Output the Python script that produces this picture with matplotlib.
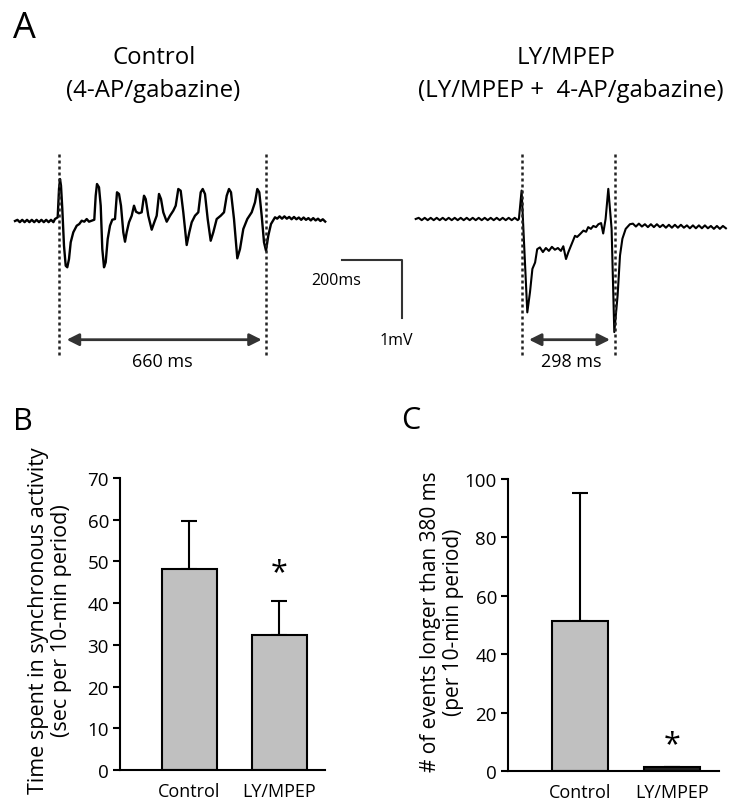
import matplotlib
matplotlib.use('Agg')
import matplotlib.pyplot as plt

plt.rcParams['font.family'] = ['Open Sans', 'DejaVu Sans']

W, H = 750, 812

# panel A traces: time (ms) from trace start, voltage (mV) from baseline
ctrl_t = [0, 8, 16, 24, 32, 40, 48, 56, 64, 72, 80, 88, 96, 104, 112, 120, 128,
          133.3, 142.3, 146.7, 150, 153.3, 157.7, 163.3, 169, 174.3, 180, 185.7, 194.3,
          205.7, 214.3, 222.3, 231, 239, 246.7, 255.7, 264.3, 269, 273.3, 280, 285.7, 291,
          296.7, 302.3, 309, 316.7, 324.3, 333.3, 340, 346.7, 353.3, 361, 366.7, 372.3, 380,
          389, 396.7, 403.3, 413.3, 422.3, 430, 435.7, 444.3, 455.7, 464.3, 472.3, 480,
          486.7, 494.3, 505.7, 516.7, 527.7, 535.7, 544.3, 552.3, 561, 572.3, 581, 589, 600,
          611, 619, 625.7, 633.3, 642.3, 652.3, 661, 672.3, 685.7, 696.7, 705.7, 713.3, 720,
          730, 741, 750, 761, 774.3, 789, 800, 807.7, 814.3, 822.3, 830, 836.7, 844.3, 853.3,
          866.7,
          874, 882, 890, 898, 906, 914, 922, 930, 938, 946, 954, 962, 970, 978, 986, 994,
          1002, 1010, 1018, 1026, 1034]
ctrl_v = [0.0, 0.02, -0.02, 0.02, -0.02, 0.02, -0.02, 0.02, -0.02, 0.02, -0.02, 0.02, -0.02,
          0.02, -0.02, 0.02, -0.02,
          0.034, 0.064, 0.552, 0.724, 0.609, 0.207, -0.426, -0.771, -0.798, -0.655, -0.367,
          -0.195, -0.081, -0.052, 0.005, -0.012, 0.034, -0.012, 0.005, 0.022, 0.436, 0.638,
          0.581, 0.264, -0.483, -0.798, -0.712, -0.310, -0.081, 0.022, 0.034, 0.495, 0.466,
          0.264, -0.195, -0.357, -0.195, -0.022, 0.091, 0.264, 0.160, 0.133, 0.150, 0.436,
          0.379, 0.091, -0.150, -0.022, 0.091, 0.466, 0.379, 0.150, -0.012, 0.091, 0.178,
          0.264, 0.552, 0.522, 0.150, -0.414, -0.195, -0.022, 0.091, 0.150, 0.495, 0.552,
          0.466, 0.034, -0.340, -0.195, 0.034, 0.091, 0.150, 0.436, 0.552, 0.495, 0.034,
          -0.643, -0.483, -0.138, 0.034, 0.150, 0.322, 0.552, 0.495, 0.091, -0.367, -0.512,
          -0.253, -0.052, 0.064,
          0.04, 0.08, 0.04, 0.08, 0.04, 0.07, 0.03, 0.07, 0.03, 0.06, 0.02, 0.06, 0.02, 0.05,
          0.01, 0.05, 0.01, 0.04, 0.0, 0.03, -0.01]

ly_t = [0, 10, 20, 30, 40, 50, 60, 70, 80, 90, 100, 110, 120, 130, 140, 150, 160, 170, 180,
        190, 200, 210, 220, 230, 240, 250, 260, 270, 280, 290, 300, 310, 320, 330, 340, 344,
        353, 372, 381, 389, 398, 405, 414, 424, 434, 444, 454, 464, 474, 484, 492, 501, 509,
        520, 531, 538, 548, 559, 568, 575, 584, 592, 601, 609, 618, 625, 633, 642, 653, 662,
        673, 681, 689, 700, 714,
        724, 734, 744, 754, 764, 774, 784, 794, 804, 814, 824, 834, 844, 854, 864, 874, 884,
        894, 904, 914, 924, 934, 944, 954, 964, 974, 984, 994, 1004, 1014, 1024, 1034]
ly_v = [0.0, 0.02, -0.02, 0.02, -0.02, 0.02, -0.02, 0.02, -0.02, 0.02, -0.02, 0.02, -0.02,
        0.02, -0.02, 0.02, -0.02, 0.02, -0.02, 0.02, -0.02, 0.02, -0.02, 0.02, -0.02, 0.02,
        -0.02, 0.02, -0.02, 0.02, -0.02, 0.02, -0.02, 0.02, -0.02, 0.0,
        0.49, -1.61, -1.26, -0.86, -0.75, -0.52, -0.49, -0.57, -0.50, -0.55, -0.48, -0.53,
        -0.50, -0.55, -0.47, -0.69, -0.57, -0.43, -0.29, -0.31, -0.26, -0.20, -0.22, -0.14,
        -0.17, -0.12, -0.14, -0.09, -0.07, -0.25, 0.0, 0.52, -0.17, -1.95, -1.32, -0.63,
        -0.34, -0.17, -0.09,
        -0.08, -0.13, -0.08, -0.13, -0.09, -0.14, -0.09, -0.14, -0.09, -0.14, -0.10, -0.15,
        -0.10, -0.15, -0.10, -0.15, -0.10, -0.15, -0.11, -0.16, -0.11, -0.16, -0.11, -0.16,
        -0.11, -0.16, -0.12, -0.17, -0.12, -0.17, -0.12, -0.16]

# panel B
groups = ['Control', 'LY/MPEP']
sync_time = [48.3, 32.3]
sync_err = [11.5, 8.3]
# panel C
long_events = [51.2, 1.2]
long_err = [43.9, 0.0]

GRAY = '#c0c0c0'


def fx(x):
    return x / W


def fy(y):
    return 1 - y / H


fig = plt.figure(figsize=(7.5, 8.12), dpi=100)

# ---- panel A: traces drawn in ms / mV, 200 ms = 60 px, 1 mV = 58 px
ms_px = 200 / 60.
mv_px = 1 / 58.
axA = fig.add_axes([0, fy(380), 1, 280 / H])
axA.set_xlim(0, W * ms_px)
axA.set_ylim((222 - 380) * mv_px, (222 - 100) * mv_px)
axA.axis('off')


def X(px):
    return px * ms_px


def Y(py):
    return (222 - py) * mv_px


axA.plot([t + X(15) for t in ctrl_t], ctrl_v, color='k', lw=1.7,
         solid_joinstyle='round')
axA.plot([t + X(415.7) for t in ly_t], [v + Y(220) for v in ly_v], color='k', lw=1.5,
         solid_joinstyle='round')

for xp in [59.3, 265.7, 522, 615]:
    axA.plot([X(xp), X(xp)], [Y(155), Y(357)], color='#222222', lw=1.8,
             linestyle=(0, (1.2, 1.2)))

arrow = dict(arrowstyle='<|-|>', lw=2, color='#333333', mutation_scale=18,
             shrinkA=0, shrinkB=0)
axA.annotate('', xy=(X(66.7), Y(340.7)), xytext=(X(261.7), Y(340.7)), arrowprops=arrow)
axA.annotate('', xy=(X(529), Y(340.7)), xytext=(X(610), Y(340.7)), arrowprops=arrow)
axA.text(X(162), Y(362), '660 ms', ha='center', va='center', fontsize=13)
axA.text(X(571), Y(362), '298 ms', ha='center', va='center', fontsize=13)

# scale bar
axA.plot([X(342), X(402), X(402)], [Y(261), Y(261), Y(319)], color='#333333', lw=1.5)
axA.text(X(336), Y(281), '200ms', ha='center', va='center', fontsize=11.5)
axA.text(X(396), Y(341), '1mV', ha='center', va='center', fontsize=11.5)

fig.text(fx(24), fy(28.5), 'A', ha='center', va='center', fontsize=26)
fig.text(fx(154), fy(58), 'Control', ha='center', va='center', fontsize=17.3)
fig.text(fx(153), fy(91), '(4-AP/gabazine)', ha='center', va='center', fontsize=17.3)
fig.text(fx(566), fy(58), 'LY/MPEP', ha='center', va='center', fontsize=17.3)
fig.text(fx(571), fy(91), '(LY/MPEP +  4-AP/gabazine)', ha='center', va='center',
         fontsize=17.3)


def bar_panel(ax, values, errs, ymax, step, xlim, width):
    pos = range(len(values))
    ax.bar(pos, values, width=width, color=GRAY, edgecolor='k', linewidth=1.5, zorder=2)
    ax.errorbar(pos, values, yerr=[[0] * len(errs), errs], fmt='none', ecolor='k',
                elinewidth=1.5, capsize=6, capthick=1.5, zorder=1)
    ax.set_xlim(*xlim)
    ax.set_ylim(0, ymax)
    ax.set_yticks(range(0, ymax + 1, step))
    ax.set_xticks(list(pos))
    ax.set_xticklabels(groups, fontsize=13)
    ax.tick_params(axis='x', length=0, pad=9)
    ax.tick_params(axis='y', length=5, width=1.5, labelsize=13.5, pad=3)
    for s in ['top', 'right']:
        ax.spines[s].set_visible(False)
    for s in ['left', 'bottom']:
        ax.spines[s].set_linewidth(1.5)
        ax.spines[s].set_clip_on(False)


# ---- panel B
axB = fig.add_axes([fx(120), fy(771), 205 / W, 292 / H])
bar_panel(axB, sync_time, sync_err, 70, 10, (-0.772, 1.506), 0.61)
axB.text(1, 47.5, '*', ha='center', va='center', fontsize=22)
fig.text(fx(23), fy(422.5), 'B', ha='center', va='center', fontsize=22)
fig.text(fx(50), fy(621), 'Time spent in synchronous activity\n(sec per 10-min period)',
         rotation=90, ha='center', va='center', multialignment='center', fontsize=15.5,
         linespacing=1.15)

# ---- panel C
axC = fig.add_axes([fx(508), fy(772), 211 / W, 292 / H])
bar_panel(axC, long_events, long_err, 100, 20, (-0.783, 1.511), 0.6)
axC.patches[1].set_facecolor('#222222')
axC.text(1, 9.2, '*', ha='center', va='center', fontsize=22)
fig.text(fx(411), fy(421), 'C', ha='center', va='center', fontsize=22)
fig.text(fx(442), fy(622), '# of events longer than 380 ms\n(per 10-min period)',
         rotation=90, ha='center', va='center', multialignment='center', fontsize=15,
         linespacing=1.15)

fig.savefig('out.png', dpi=100)
